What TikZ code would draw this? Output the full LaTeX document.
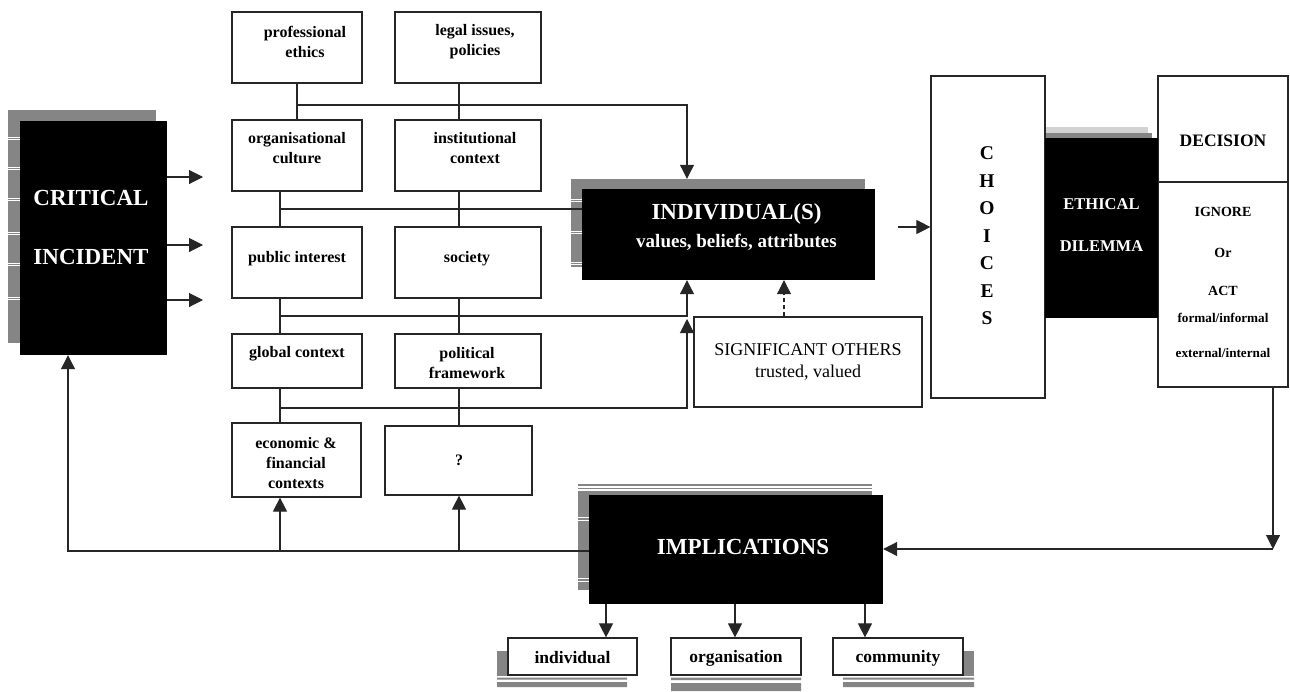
\documentclass[tikz,border=0pt]{standalone}
\usepackage{fontspec}
\setmainfont{Liberation Serif}
\usetikzlibrary{arrows.meta}
\definecolor{shd}{HTML}{858585}
\definecolor{shdl}{HTML}{D2D2D2}
\newcommand\rectnode[6][box]{\node[#1,minimum width={(#5-#3)*1pt},minimum height={(#6-#4)*1pt}] (#2) at ({(#3+#5)/2},{(#4+#6)/2}) {};}
\begin{document}
\begin{tikzpicture}[x=1pt,y=-1pt,
  box/.style={draw=black!85,line width=1.2pt,fill=white,inner sep=0pt},
  blk/.style={fill=black,draw=none,inner sep=0pt},
  shade/.style={fill=shd,draw=none,inner sep=0pt},
  shadel/.style={fill=shdl,draw=none,inner sep=0pt},
  conn/.style={line width=1.1pt,draw=black!85},
  arr/.style={conn,-{Triangle[length=14pt,width=14pt]}},
  tb/.style={font=\bfseries\fontsize{16}{20}\selectfont,align=center,inner sep=0pt},
  tbig/.style={text=white,font=\bfseries\fontsize{23}{28}\selectfont,inner sep=0pt},
  tmid/.style={text=white,font=\bfseries\fontsize{19}{23}\selectfont,inner sep=0pt},
  teth/.style={text=white,font=\bfseries\fontsize{16.5}{20}\selectfont,inner sep=0pt},
  tsig/.style={font=\fontsize{18}{22}\selectfont,inner sep=0pt},
  tdec/.style={font=\bfseries\fontsize{17.5}{21}\selectfont,inner sep=0pt},
  tact/.style={font=\bfseries\fontsize{14}{17}\selectfont,inner sep=0pt},
  tsm/.style={font=\bfseries\fontsize{13.2}{16}\selectfont,inner sep=0pt},
  tbot/.style={font=\bfseries\fontsize{17.5}{21}\selectfont,inner sep=0pt},
  stripe/.style={white,line width=0.9pt}]
\useasboundingbox (0,0) rectangle (1290,691);
\fill[white] (0,0) rectangle (1290,691);

% ---------- shadows ----------
\rectnode[shade]{ci-s}{8}{110}{156}{343}
\foreach \y in {137,167,198,232,263,297}{\draw[stripe] (8,\y) -- (20,\y) (8,\y+2.8) -- (20,\y+2.8);}
\rectnode[shade]{ind-s}{571}{179}{865}{267}
\foreach \y in {199,231,262}{\draw[stripe] (571,\y) -- (582,\y) (571,\y+2.8) -- (582,\y+2.8);}
\rectnode[shadel]{ed-sl}{1033}{127}{1148}{310}
\rectnode[shade]{ed-s}{1038}{133}{1152}{314}
\foreach \y in {167,200,232,263,297}{\draw[stripe] (1033,\y) -- (1045,\y);}
\rectnode[shade]{imp-s}{578}{491}{872}{590}
\draw[shd,line width=1.2pt] (578,485) -- (872,485) (578,488.5) -- (872,488.5);
\foreach \y in {517,578}{\draw[stripe] (578,\y) -- (589,\y) (578,\y+3) -- (589,\y+3);}
\rectnode[shade]{bi-s}{497}{651}{627}{676}
\fill[shd] (497,677.5) rectangle (627,679.5) (497,682) rectangle (627,687);
\fill[shd] (671,677.5) rectangle (801,680) (671,683) rectangle (801,691);
\rectnode[shade]{bc-s}{843}{651}{974}{676}
\fill[shd] (843,677.5) rectangle (974,679.5) (843,682) rectangle (974,687);

% ---------- white boxes ----------
\rectnode{pe}{232}{12}{362}{83}
\rectnode{lp}{395}{12}{541}{83}
\rectnode{oc}{232}{120}{362}{191}
\rectnode{ic}{395}{120}{541}{191}
\rectnode{pi}{232}{227}{362}{298}
\rectnode{so}{395}{227}{541}{298}
\rectnode{gc}{232}{334}{362}{388}
\rectnode{pf}{395}{334}{541}{388}
\rectnode{ef}{232}{423}{361}{497}
\rectnode{qm}{385}{426}{532}{495}
\rectnode{sig}{694}{317}{922}{407}
\rectnode{ch}{931}{76}{1045}{398}
\rectnode{dec}{1158}{76}{1288}{182}
\rectnode{dd}{1158}{182}{1288}{387}
\rectnode{bi}{508}{638}{637}{675}
\rectnode{bo}{671}{638}{801}{675}
\rectnode{bc}{833}{638}{963}{675}

% ---------- black boxes ----------
\rectnode[blk]{ci}{20}{121}{167}{355}
\rectnode[blk]{ind}{582}{189}{875}{280}
\rectnode[blk]{ed}{1045}{138}{1158}{318}
\rectnode[blk]{imp}{589}{495}{883}{604}

% ---------- texts ----------
\node[tb] (pe-t) at (305,42) {professional\\ethics};
\node[tb] (lp-t) at (475,42) {legal issues,\\policies};
\node[tb] (oc-t) at (297,148.5) {organisational\\culture};
\node[tb] (ic-t) at (475,148.5) {institutional\\context};
\node[tb] (pi-t) at (297,258.5) {public interest};
\node[tb] (so-t) at (467,258.5) {society};
\node[tb] (gc-t) at (297,354) {global context};
\node[tb] (pf-t) at (467,363.5) {political\\framework};
\node[tb] (ef-t) at (296,463) {economic \&\\financial\\contexts};
\node[tb] (qm-t) at (459,460) {?};
\node[tbig,align=center,font=\bfseries\fontsize{23}{59}\selectfont] (ci-t) at (91,227.5) {CRITICAL\\INCIDENT};
\node[tbig] (ind-t1) at (736.5,213.5) {INDIVIDUAL(S)};
\node[tmid] (ind-t2) at (736.5,242) {values, beliefs, attributes};
\node[tbig] (imp-t) at (743,547) {IMPLICATIONS};
\node[teth] (ed-t1) at (1101.5,204) {ETHICAL};
\node[teth] (ed-t2) at (1101.5,246) {DILEMMA};
\node[tsig] (sig-t1) at (808,350) {SIGNIFICANT OTHERS};
\node[tsig] (sig-t2) at (808,373) {trusted, valued};
\node[align=center,inner sep=0pt,font=\bfseries\fontsize{19.5}{27.5}\selectfont] (ch-t) at (987,236) {C\\H\\O\\I\\C\\E\\S};
\node[tdec] (dec-t) at (1223,141) {DECISION};
\node[tact] (dd-t1) at (1223,212) {IGNORE};
\node[tact] (dd-t2) at (1223,252.5) {Or};
\node[tact] (dd-t3) at (1223,291) {ACT};
\node[tsm] (dd-t4) at (1223,318) {formal/informal};
\node[tsm] (dd-t5) at (1223,353) {external/internal};
\node[tbot] (bi-t) at (572.5,658) {individual};
\node[tbot] (bo-t) at (736,658) {organisation};
\node[tbot] (bc-t) at (898,658) {community};

% ---------- connectors ----------
\coordinate (xL) at (280,0);
\coordinate (xR) at (459,0);
\coordinate (xA) at (687,0);
\coordinate (xB) at (784,0);
\coordinate (h1) at (297,105);
\coordinate (h2) at (280,209);
\coordinate (h3) at (280,316);
\coordinate (h4) at (280,408);

\draw[conn] (pe.south) -- (oc.north);
\draw[conn] (lp.south -| xR) -- (ic.north -| xR);
\draw[arr] (h1) -| (ind-s.north -| xA);
\draw[conn] (oc.south -| xL) -- (pi.north -| xL);
\draw[conn] (ic.south -| xR) -- (so.north -| xR);
\draw[conn] (h2) -- (h2 -| ind.west);
\draw[conn] (pi.south -| xL) -- (gc.north -| xL);
\draw[conn] (so.south -| xR) -- (pf.north -| xR);
\draw[arr] (h3) -| (ind.south -| xA);
\draw[conn] (gc.south -| xL) -- (ef.north -| xL);
\draw[conn] (pf.south -| xR) -- (qm.north -| xR);
\draw[arr] (h4) -| ([yshift=-3pt]h3 -| xA);
\draw[arr,dash pattern=on 4pt off 3pt] (sig.north -| xB) -- (ind.south -| xB);

\foreach \n/\y in {1/177,2/245,3/300}{
  \coordinate (ca\n) at (203,\y);
  \draw[arr] (ca\n -| ci.east) -- (ca\n);}

\coordinate (icc) at (898,227);
\draw[arr] (icc) -- (icc -| ch.west);

\coordinate (dC) at (1273,549);
\draw[arr] (dd.south -| dC) -- (dC);
\draw[arr] (dC) -- (dC -| imp.east);

\coordinate (bL) at (68,551);
\draw[arr] (imp.west |- bL) -| (ci.south -| bL);
\draw[arr] (bL -| xL) -- (ef.south -| xL);
\draw[arr] (bL -| xR) -- (qm.south -| xR);

\coordinate (k1) at (606,0);
\coordinate (k2) at (735,0);
\coordinate (k3) at (865,0);
\draw[arr] (imp.south -| k1) -- (bi.north -| k1);
\draw[arr] (imp.south -| k2) -- (bo.north -| k2);
\draw[arr] (imp.south -| k3) -- (bc.north -| k3);
\end{tikzpicture}
\end{document}
